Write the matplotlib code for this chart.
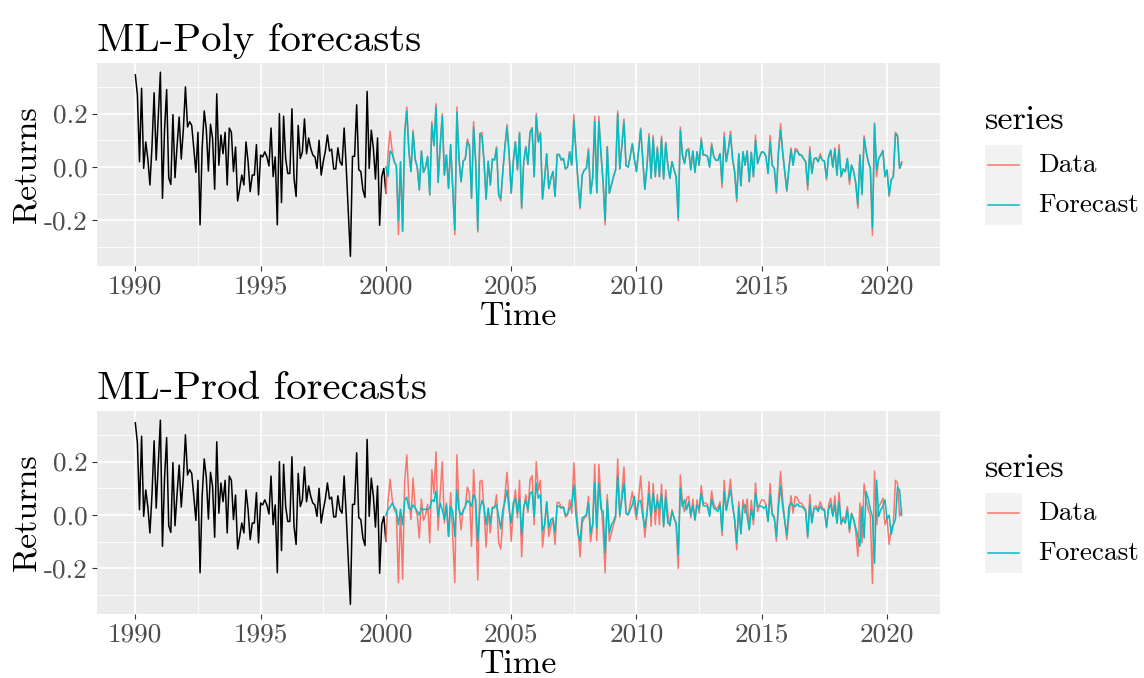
import numpy as np
import matplotlib
matplotlib.use("Agg")
import matplotlib.pyplot as plt
from matplotlib.lines import Line2D
from matplotlib.patches import Rectangle

# monthly returns, training part Jan 1990 .. Jan 2000
train = [0.345, 0.27, 0.02, 0.295, -0.005, 0.094, 0.03, -0.067, 0.08, 0.278,
         0.026, 0.19, 0.355, -0.117, 0.14, 0.29, -0.04, -0.065, 0.196, -0.04,
         0.08, 0.187, 0.03, 0.14, 0.30, 0.15, 0.17, 0.156, 0.07, -0.02,
         0.13, -0.216, 0.07, 0.21, 0.14, -0.015, 0.16, 0.107, -0.083, 0.274,
         0.007, 0.12, 0.05, 0.13, -0.067,
         0.146, 0.13, -0.017, 0.075, -0.127, -0.08, -0.03, -0.067, 0.094, 0.02,
         -0.092, -0.03, -0.03, 0.084, -0.104, 0.045, 0.038, 0.057, 0.038, 0.004,
         0.146, -0.036, 0.038, -0.216, 0.2, -0.133, 0.19, 0.032, -0.024, -0.024,
         0.218, -0.042, -0.11, 0.156, 0.032, 0.057, 0.18, 0.05, 0.109, 0.07,
         0.045, 0.038, -0.005, 0.1, -0.03, 0.02,
         0.06, 0.12, 0.06, 0.067, -0.007, -0.007, 0.072, 0.02, 0.007, 0.146,
         0.0, -0.17, -0.334, 0.04, 0.04, 0.233, -0.01, -0.017, -0.086, -0.114,
         0.283, -0.005, 0.138, 0.07, -0.045, 0.109, -0.218, -0.036, -0.005, -0.098]

# test part Jan 2000 .. Aug 2020
data = [-0.098, 0.05, 0.134, 0.06, 0.02, 0.005, -0.253, 0.02, -0.24, 0.125,
        0.225, 0.06, -0.017, 0.138, 0.03, 0.0, -0.086,
        0.06, -0.02, 0.0, 0.04, -0.104, 0.17, 0.08, 0.237, -0.057, 0.08,
        0.2, -0.03, 0.045, -0.08, 0.084, -0.08, -0.253, 0.225, 0.03, -0.055,
        0.022, 0.03, 0.105, 0.08, -0.117, 0.17, 0.02, -0.243, 0.125, 0.13,
        0.02, -0.12, 0.022, -0.067, 0.03, 0.026, 0.076, -0.104, -0.127, -0.017,
        0.076, 0.16, 0.05, -0.098, 0.02,
        0.094, -0.01, 0.13, -0.156, 0.02, 0.076, 0.01, 0.13, 0.148, -0.036,
        0.2, 0.094, 0.13, -0.12, -0.042, 0.05, -0.08, -0.042, -0.017, -0.11,
        0.047, 0.047, 0.026, 0.032, -0.007, 0.0, 0.057, 0.007, 0.196, 0.057,
        -0.055, -0.156, -0.03, -0.011, -0.005, 0.07, -0.1, -0.042, 0.19, -0.096,
        0.19, 0.05, -0.055, -0.216, 0.076, -0.098,
        -0.067, -0.036, -0.011, 0.21, -0.007, 0.08, 0.18, 0.005, 0.0, 0.04,
        0.087, 0.03, -0.017, 0.06, 0.146, 0.03, -0.083, 0.0, 0.125, -0.042,
        0.118, -0.036, 0.076, -0.036, 0.116, -0.045, 0.094, 0.007, -0.042, 0.02,
        -0.011, -0.036, -0.2, 0.15, 0.045, 0.013, 0.063, 0.07, -0.01, 0.06,
        -0.02, 0.057, 0.007, 0.11, 0.045,
        0.045, 0.04, 0.0, 0.09, 0.04, 0.026, 0.025, 0.05, -0.077, 0.13,
        0.02, 0.067, 0.134, 0.032, -0.017, -0.13, 0.05, -0.07, 0.057, 0.007,
        0.06, -0.055, 0.055, -0.036, 0.12, 0.013, 0.04, 0.057, 0.055, 0.04,
        -0.024, 0.118, 0.007, -0.005, -0.098, 0.057, 0.163, 0.057, -0.017, -0.092,
        -0.005, 0.072, 0.007, 0.07, 0.064, 0.045,
        0.045, 0.032, 0.02, -0.086, 0.076, -0.024, 0.03, 0.035, 0.02, 0.05,
        0.026, 0.022, -0.048, 0.038, 0.063, 0.0, 0.072, -0.03, 0.084, -0.036,
        -0.007, -0.017, 0.032, -0.065, 0.007, -0.017, -0.06, -0.154, 0.045, -0.104,
        0.117, 0.057, 0.02, -0.005, -0.256, 0.165, -0.036, 0.032, 0.045, 0.063,
        -0.036, -0.011, -0.11, -0.048, -0.036, 0.13,
        0.12, -0.005, 0.02]

poly_fc = [0.0, -0.036, 0.06, 0.05, 0.02, 0.005, -0.2, 0.02, -0.24, 0.125,
           0.21, 0.06, -0.017, 0.13, 0.03, 0.0, -0.086,
           0.06, -0.02, 0.0, 0.04, -0.104, 0.16, 0.08, 0.225, -0.057, 0.08,
           0.19, -0.03, 0.045, -0.08, 0.084, -0.08, -0.235, 0.205, 0.03, -0.055,
           0.022, 0.03, 0.094, 0.08, -0.117, 0.15, 0.02, -0.235, 0.125, 0.113,
           0.02, -0.12, 0.022, -0.067, 0.03, 0.026, 0.07, -0.104, -0.117, -0.017,
           0.076, 0.15, 0.05, -0.098, 0.02,
           0.094, -0.01, 0.128, -0.15, 0.02, 0.076, 0.01, 0.128, 0.145, -0.036,
           0.19, 0.094, 0.125, -0.12, -0.042, 0.05, -0.08, -0.042, -0.017, -0.11,
           0.047, 0.047, 0.026, 0.032, -0.007, 0.0, 0.057, 0.007, 0.175, 0.057,
           -0.055, -0.15, -0.03, -0.011, -0.005, 0.06, -0.1, -0.042, 0.17, -0.096,
           0.17, 0.05, -0.055, -0.2, 0.076, -0.098,
           -0.067, -0.036, -0.011, 0.2, -0.007, 0.08, 0.17, 0.005, 0.0, 0.04,
           0.087, 0.03, -0.017, 0.06, 0.14, 0.03, -0.083, 0.0, 0.115, -0.042,
           0.108, -0.036, 0.07, -0.036, 0.106, -0.045, 0.088, 0.007, -0.042, 0.02,
           -0.011, -0.036, -0.19, 0.138, 0.045, 0.013, 0.063, 0.06, -0.01, 0.06,
           -0.02, 0.057, 0.007, 0.1, 0.045,
           0.045, 0.04, 0.0, 0.08, 0.04, 0.026, 0.025, 0.05, -0.06, 0.113,
           0.02, 0.067, 0.12, 0.032, -0.017, -0.117, 0.05, -0.07, 0.057, 0.007,
           0.06, -0.055, 0.055, -0.036, 0.1, 0.013, 0.04, 0.057, 0.055, 0.04,
           -0.024, 0.094, 0.007, -0.005, -0.09, 0.057, 0.138, 0.057, -0.017, -0.085,
           -0.005, 0.065, 0.007, 0.06, 0.06, 0.045,
           0.045, 0.032, 0.02, -0.07, 0.06, -0.024, 0.03, 0.035, 0.02, 0.04,
           0.026, 0.022, -0.04, 0.038, 0.063, 0.0, 0.065, -0.03, 0.065, -0.036,
           -0.007, -0.017, 0.032, -0.05, 0.007, -0.017, -0.06, -0.141, 0.045, -0.1,
           0.107, 0.057, 0.02, -0.005, -0.228, 0.16, -0.01, 0.032, 0.045, 0.06,
           -0.036, -0.011, -0.105, -0.048, -0.036, 0.125,
           0.115, -0.005, 0.015]

prod_fc = [0.0, 0.02, 0.03, 0.045, 0.03, 0.02, -0.036, 0.022, -0.036, 0.055,
           0.067, 0.026, 0.02, 0.038, 0.026, 0.014, 0.0, 0.026, 0.02, 0.022,
           0.02, 0.026, 0.057, 0.05, 0.09, -0.005, 0.045, 0.02, -0.017, 0.038,
           -0.08, 0.032, 0.014, -0.08, 0.094, 0.02, 0.0, 0.014, 0.032, 0.055,
           0.047, 0.032, 0.076, 0.06, -0.098, 0.02, 0.055, 0.032, -0.036, 0.026,
           -0.03, 0.026, 0.03, 0.038, -0.005, -0.052, 0.02, 0.05, 0.094, 0.02,
           -0.03, 0.045, 0.063, 0.007, 0.063,
           -0.073, 0.032, 0.055, 0.02, 0.08, 0.088, -0.005, 0.12, 0.063, 0.076,
           -0.06, -0.036, 0.05, -0.048, -0.017, -0.011, -0.065, 0.035, 0.032, 0.026,
           0.03, 0.0, 0.005, 0.026, 0.035, 0.113, 0.0, -0.07, -0.098, -0.011,
           -0.005, 0.001, 0.045, -0.067, -0.036, 0.12, -0.048, 0.12, 0.022, 0.014,
           -0.141, 0.057, -0.067, -0.036, -0.024, 0.0, 0.146, 0.001, 0.057, 0.12,
           0.007, 0.001, 0.02, 0.038, 0.07, 0.001, 0.05, 0.055, -0.005, -0.048,
           0.007, 0.082, -0.005, 0.082, 0.014, 0.055, 0.02,
           0.08, -0.04, 0.067, -0.03, -0.036, 0.014, -0.011, -0.03, -0.148, 0.1,
           0.032, 0.057, 0.02, 0.05, 0.0, 0.035, -0.017, 0.038, 0.022, 0.082,
           0.035, 0.035, 0.032, -0.005, 0.06, 0.026, 0.02, 0.014, 0.038, -0.06,
           0.088, 0.017, 0.057, 0.094, 0.042, -0.017, -0.104, 0.032, -0.07, 0.032,
           0.038, -0.005, -0.055, 0.02, -0.017, 0.082, 0.032, 0.035, 0.032, 0.025,
           0.035, -0.024, 0.076, 0.001, -0.011, -0.082, 0.032, 0.109, 0.032, -0.024,
           -0.077, 0.032, 0.045, 0.035, 0.032, 0.042, 0.032,
           0.032, 0.026, 0.014, -0.08, 0.042, -0.03, 0.022, 0.026, 0.014, 0.032,
           0.02, 0.017, -0.045, 0.02, 0.042, -0.005, 0.038, -0.03, 0.05, -0.03,
           -0.017, -0.03, 0.02, -0.055, 0.005, -0.017, -0.048, -0.08, -0.117, 0.032,
           -0.086, 0.088, 0.06, 0.02, -0.005, -0.18, 0.13, -0.005, 0.02, 0.032,
           0.057, -0.015, 0.0, -0.073, -0.036, -0.017, 0.104, 0.094, 0.0]

titles = ["ML-Poly forecasts", "ML-Prod forecasts"]
forecasts = [poly_fc, prod_fc]
series_names = ["Data", "Forecast"]
year_ticks = [1990, 1995, 2000, 2005, 2010, 2015, 2020]
ret_ticks = [-0.2, 0.0, 0.2]
ret_labels = ["-0.2", "0.0", "0.2"]

t_train = 1990 + np.arange(len(train)) / 12
t_test = 2000 + np.arange(len(data)) / 12

RED = "#F8766D"
CYAN = "#00BFC4"
plt.rcParams["font.family"] = "cmr10"
plt.rcParams["mathtext.fontset"] = "cm"
plt.rcParams["axes.unicode_minus"] = False

W, H = 1144, 678
fig = plt.figure(figsize=(W / 100, H / 100), dpi=100)

base = 24.5
panels = [(63, 265.5), (411, 613.5)]
for k, (top, bot) in enumerate(panels):
    ax = fig.add_axes([97 / W, 1 - bot / H, (940 - 97) / W, (bot - top) / H])
    ax.set_facecolor("#EBEBEB")
    for s in ax.spines.values():
        s.set_visible(False)
    ax.plot(t_train, train, color="black", lw=1.1, zorder=3)
    ax.plot(t_test, data, color=RED, lw=1.1, zorder=4)
    ax.plot(t_test, forecasts[k], color=CYAN, lw=1.1, zorder=5)
    ax.margins(x=0.05, y=0.05)
    ax.set_xticks(year_ticks)
    ax.set_xticklabels([str(y) for y in year_ticks])
    ax.set_xticks([1992.5, 1997.5, 2002.5, 2007.5, 2012.5, 2017.5], minor=True)
    ax.set_yticks(ret_ticks)
    ax.set_yticklabels(ret_labels)
    ax.set_yticks([-0.3, -0.1, 0.1, 0.3], minor=True)
    ax.grid(which="major", color="white", lw=1.2)
    ax.grid(which="minor", color="white", lw=0.6)
    ax.set_axisbelow(True)
    ax.tick_params(which="major", length=3.5, width=0.8, color="#333333",
                   labelsize=base * 0.8, labelcolor="#4D4D4D", pad=3)
    ax.tick_params(which="minor", length=0)
    ax.set_xlabel("Time", fontsize=base, labelpad=2.5)
    ax.set_ylabel("Returns", fontsize=base, labelpad=2)
    ax.set_title(titles[k], loc="left", fontsize=base * 1.2, pad=8.5)

    # legend drawn by hand, ggplot style
    off = top - 63
    fig.text(985 / W, 1 - (120 + off) / H, "series", fontsize=base,
             va="center", ha="left")
    for j, (name, col) in enumerate(zip(series_names, [RED, CYAN])):
        yc = 165 + off + 40 * j
        fig.patches.append(Rectangle((985 / W, 1 - (yc + 20) / H), 37 / W, 40 / H,
                                     transform=fig.transFigure,
                                     facecolor="#F2F2F2", edgecolor="none"))
        fig.lines.append(Line2D([988 / W, 1019 / W], [1 - yc / H, 1 - yc / H],
                                transform=fig.transFigure, color=col, lw=1.1))
        fig.text(1038 / W, 1 - yc / H, name, fontsize=base * 0.8,
                 va="center", ha="left")

fig.savefig("out.png", dpi=100)
